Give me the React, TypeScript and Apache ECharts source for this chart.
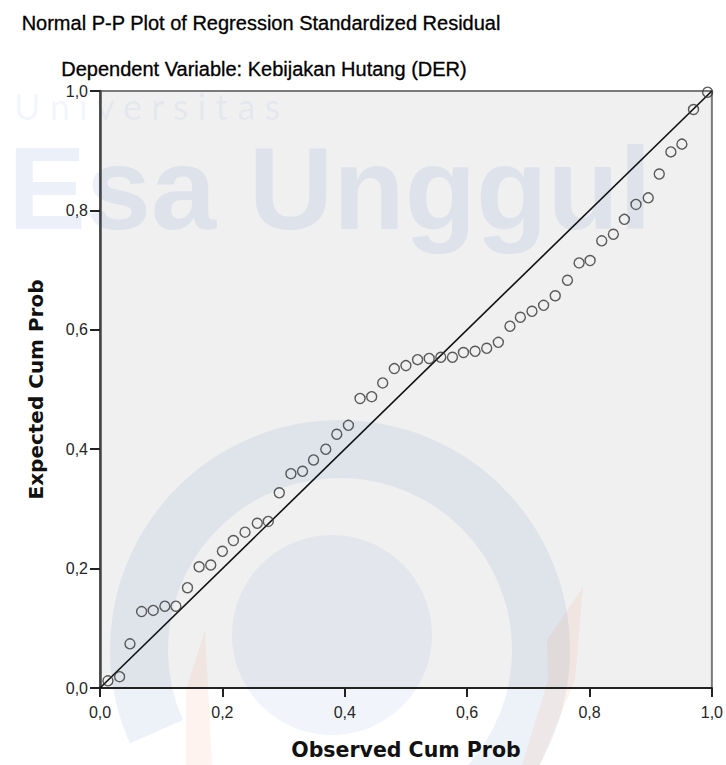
import React, { useEffect, useRef } from "react";
import * as echarts from "echarts";

const titleText = "Normal P-P Plot of Regression Standardized Residual";
const subtitleText = "Dependent Variable: Kebijakan Hutang (DER)";
const xAxisName = "Observed Cum Prob";
const yAxisName = "Expected Cum Prob";

const axisTicks = [0, 0.2, 0.4, 0.6, 0.8, 1.0];

const observedCumProb = [
  0.013, 0.032, 0.049, 0.068, 0.087, 0.106, 0.124, 0.143, 0.162, 0.181,
  0.2, 0.218, 0.237, 0.257, 0.275, 0.293, 0.312, 0.331, 0.349, 0.369,
  0.387, 0.406, 0.425, 0.444, 0.462, 0.481, 0.5, 0.519, 0.538, 0.557,
  0.576, 0.594, 0.613, 0.632, 0.651, 0.67, 0.687, 0.706, 0.725, 0.744,
  0.764, 0.783, 0.801, 0.82, 0.839, 0.857, 0.876, 0.896, 0.914, 0.933,
  0.951, 0.97, 0.993,
];

const expectedCumProb = [
  0.012, 0.019, 0.074, 0.128, 0.13, 0.137, 0.137, 0.168, 0.203, 0.206,
  0.229, 0.247, 0.261, 0.276, 0.279, 0.327, 0.359, 0.363, 0.382, 0.4,
  0.425, 0.44, 0.485, 0.488, 0.511, 0.535, 0.54, 0.55, 0.552, 0.554,
  0.554, 0.562, 0.564, 0.569, 0.579, 0.606, 0.621, 0.631, 0.641, 0.657,
  0.683, 0.712, 0.716, 0.749, 0.76, 0.785, 0.81, 0.821, 0.861, 0.898,
  0.911, 0.969, 0.998,
];

const diagonalLine = [0, 1];

const fmt = (v: number) => v.toFixed(1).replace(".", ",");

export default function App() {
  const ref = useRef<HTMLDivElement>(null);

  useEffect(() => {
    document.body.style.margin = "0";
    if (!ref.current) return;
    const chart = echarts.init(ref.current, null, { renderer: "svg" });

    const points = observedCumProb.map((x, i) => [x, expectedCumProb[i]]);
    const lineData = diagonalLine.map((v) => [v, v]);

    const wmBlue = "rgba(58,107,192,0.10)";
    const wmOrange = "rgba(240,120,70,0.09)";

    const tickLabel = {
      fontFamily: "'Liberation Sans', Arial, sans-serif",
      fontSize: 16,
      color: "#262626",
      formatter: (v: number) => fmt(v),
    };
    const nameStyle = {
      fontFamily: "'DejaVu Sans', Verdana, sans-serif",
      fontWeight: "bold" as const,
      fontSize: 20.5,
      color: "#111",
    };

    chart.setOption({
      animation: false,
      backgroundColor: "#ffffff",
      grid: {
        left: 100,
        right: 14,
        top: 91,
        bottom: 72,
        show: true,
        backgroundColor: "#f0f0f0",
        borderColor: "#7a7a7a",
        borderWidth: 2,
      },
      xAxis: {
        type: "value",
        min: axisTicks[0],
        max: axisTicks[axisTicks.length - 1],
        interval: 0.2,
        name: xAxisName,
        nameLocation: "middle",
        nameGap: 51,
        nameTextStyle: nameStyle,
        axisLine: { show: true, lineStyle: { color: "#222", width: 2 } },
        axisTick: { show: true, length: 9, lineStyle: { color: "#222", width: 2 } },
        axisLabel: { ...tickLabel, margin: 16 },
        splitLine: { show: false },
      },
      yAxis: {
        type: "value",
        min: axisTicks[0],
        max: axisTicks[axisTicks.length - 1],
        interval: 0.2,
        name: yAxisName,
        nameLocation: "middle",
        nameGap: 54,
        nameTextStyle: { ...nameStyle, fontSize: 20 },
        axisLine: { show: true, lineStyle: { color: "#444", width: 2.5 } },
        axisTick: { show: true, length: 10, lineStyle: { color: "#222", width: 2 } },
        axisLabel: { ...tickLabel, margin: 12 },
        splitLine: { show: false },
      },
      series: [
        {
          type: "line",
          data: lineData,
          showSymbol: false,
          symbol: "none",
          lineStyle: { color: "#111", width: 1.6 },
          z: 2,
          silent: true,
        },
        {
          type: "scatter",
          data: points,
          symbol: "circle",
          symbolSize: 10,
          clip: false,
          itemStyle: {
            color: "transparent",
            borderColor: "#333",
            borderWidth: 1.4,
          },
          z: 3,
        },
      ],
      graphic: [
        {
          type: "text",
          x: 261,
          y: 13,
          style: {
            text: titleText,
            font: "20px 'Liberation Sans', Arial, sans-serif",
            fill: "#000",
            stroke: "#000",
            lineWidth: 0.3,
            textAlign: "center",
            textVerticalAlign: "top",
          },
        },
        {
          type: "text",
          x: 264,
          y: 59,
          style: {
            text: subtitleText,
            font: "20px 'Liberation Sans', Arial, sans-serif",
            fill: "#000",
            stroke: "#000",
            lineWidth: 0.3,
            textAlign: "center",
            textVerticalAlign: "top",
          },
        },
        {
          type: "group",
          silent: true,
          z: 100,
          children: [
            {
              type: "text",
              x: 14,
              y: 88,
              style: {
                text: "U n i v e r s i t a s",
                font: "36px Lato, sans-serif",
                fill: "rgba(58,107,192,0.07)",
                textVerticalAlign: "top",
              },
            },
            {
              type: "text",
              x: 8,
              y: 130,
              style: {
                text: "Esa Unggul",
                font: "bold 117px 'Liberation Sans', Arial, sans-serif",
                fill: wmBlue,
                textVerticalAlign: "top",
              },
            },
            {
              type: "sector",
              shape: {
                cx: 340,
                cy: 650,
                r: 230,
                r0: 172,
                startAngle: (156 * Math.PI) / 180,
                endAngle: (420 * Math.PI) / 180,
                clockwise: true,
              },
              style: { fill: "rgba(58,107,192,0.09)" },
            },
            {
              type: "circle",
              shape: { cx: 332, cy: 635, r: 100 },
              style: { fill: "rgba(58,107,192,0.07)" },
            },
            {
              type: "polygon",
              shape: {
                points: [
                  [205, 630],
                  [212, 765],
                  [186, 765],
                  [186, 690],
                ],
              },
              style: { fill: wmOrange },
            },
            {
              type: "polygon",
              shape: {
                points: [
                  [583, 587],
                  [575, 680],
                  [540, 765],
                  [522, 765],
                  [548, 680],
                  [547, 640],
                ],
              },
              style: { fill: wmOrange },
            },
          ],
        },
      ],
    });

    return () => chart.dispose();
  }, []);

  return <div ref={ref} style={{ width: 726, height: 765 }} />;
}
